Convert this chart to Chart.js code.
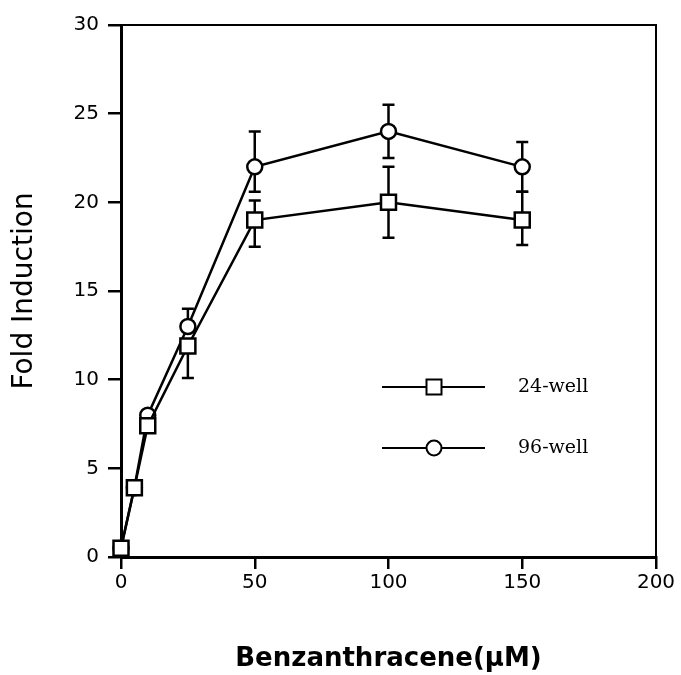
<!DOCTYPE html>
<html>
<head>
<meta charset="utf-8">
<script src="https://cdn.jsdelivr.net/npm/chart.js@4.4.1/dist/chart.umd.min.js"></script>
<style>
  html, body { margin: 0; padding: 0; background: #fff; }
  canvas { display: block; }
</style>
</head>
<body>
<canvas id="c" width="681" height="675"></canvas>
<script>
// ---- data ----
const concentrations = [0, 5, 10, 25, 50, 100, 150];          // Benzanthracene (µM)
const well24 = [0.5, 3.9, 7.4, 11.9, 19.0, 20.0, 19.0];
const well24Upper = [null, null, null, null, 20.1, 22.0, 20.6];
const well24Lower = [null, null, null, 10.1, 17.5, 18.0, 17.6];
const well96 = [0.5, 3.9, 8.0, 13.0, 22.0, 24.0, 22.0];
const well96Upper = [null, null, null, 14.0, 24.0, 25.5, 23.4];
const well96Lower = [null, null, null, null, 20.6, 22.5, 20.6];
const xTicks = [0, 50, 100, 150, 200];
const yTicks = [0, 5, 10, 15, 20, 25, 30];
const seriesNames = ['24-well', '96-well'];

function toPoints(xs, ys) { return xs.map((x, i) => ({ x: x, y: ys[i] })); }

// error bars drawn through the scales
const errorBarPlugin = {
  id: 'errorBars',
  beforeDatasetsDraw(chart) {
    const ctx = chart.ctx;
    const xs = chart.scales.x, ys = chart.scales.y;
    const sets = [[well96, well96Upper, well96Lower], [well24, well24Upper, well24Lower]];
    ctx.save();
    ctx.strokeStyle = '#000';
    ctx.lineWidth = 2.5;
    const cap = 6;
    sets.forEach(([vals, up, lo]) => {
      concentrations.forEach((c, i) => {
        const px = xs.getPixelForValue(c);
        const py = ys.getPixelForValue(vals[i]);
        [up[i], lo[i]].forEach(v => {
          if (v === null || v === undefined) return;
          const ey = ys.getPixelForValue(v);
          ctx.beginPath();
          ctx.moveTo(px, py);
          ctx.lineTo(px, ey);
          ctx.moveTo(px - cap, ey);
          ctx.lineTo(px + cap, ey);
          ctx.stroke();
        });
      });
    });
    ctx.restore();
  }
};

// frame (top and right) + in-plot legend
const framePlugin = {
  id: 'frameLegend',
  afterDraw(chart) {
    const ctx = chart.ctx;
    const a = chart.chartArea;
    ctx.save();
    ctx.strokeStyle = '#000';
    ctx.lineWidth = 2;
    ctx.beginPath();
    ctx.moveTo(a.left, a.top);
    ctx.lineTo(a.right, a.top);
    ctx.lineTo(a.right, a.bottom);
    ctx.stroke();

    // legend
    const lx0 = 382, lx1 = 485, mx = 434, tx = 518;
    const rows = [387, 448];
    ctx.lineWidth = 2;
    rows.forEach((y, k) => {
      ctx.beginPath();
      ctx.moveTo(lx0, y);
      ctx.lineTo(lx1, y);
      ctx.stroke();
      ctx.fillStyle = '#fff';
      ctx.beginPath();
      if (k === 0) {
        ctx.rect(mx - 7.5, y - 7.5, 15, 15);
      } else {
        ctx.arc(mx, y, 7.5, 0, Math.PI * 2);
      }
      ctx.fill();
      ctx.stroke();
      ctx.fillStyle = '#000';
      ctx.font = "19px 'DejaVu Serif'";
      ctx.textBaseline = 'middle';
      ctx.textAlign = 'left';
      ctx.fillText(seriesNames[k], tx, y);
    });
    ctx.restore();
  }
};

new Chart(document.getElementById('c'), {
  type: 'line',
  data: {
    datasets: [
      {
        label: seriesNames[1],
        data: toPoints(concentrations, well96),
        borderColor: '#000',
        borderWidth: 2.5,
        pointStyle: 'circle',
        pointRadius: 7.5,
        pointBorderWidth: 2.5,
        pointBackgroundColor: '#fff',
        pointBorderColor: '#000',
        tension: 0,
        clip: false,
        order: 2
      },
      {
        label: seriesNames[0],
        data: toPoints(concentrations, well24),
        borderColor: '#000',
        borderWidth: 2.5,
        pointStyle: 'rect',
        pointRadius: 10.6,
        pointBorderWidth: 2.5,
        pointBackgroundColor: '#fff',
        pointBorderColor: '#000',
        tension: 0,
        clip: false,
        order: 1
      }
    ]
  },
  options: {
    responsive: false,
    animation: false,
    devicePixelRatio: 1,
    layout: { padding: { left: 0, top: 25, right: 25, bottom: 0 } },
    plugins: { legend: { display: false }, tooltip: { enabled: false } },
    scales: {
      x: {
        type: 'linear',
        min: 0, max: 200,
        afterFit(s) { s.height = 118; },
        afterBuildTicks(s) { s.ticks = xTicks.map(v => ({ value: v })); },
        border: { display: true, color: '#000', width: 3 },
        grid: { drawOnChartArea: false, drawTicks: true, tickLength: 12, color: '#000', lineWidth: 2.5 },
        ticks: { color: '#000', font: { family: 'DejaVu Sans', size: 20 }, padding: 2, maxRotation: 0 },
        title: {
          display: true,
          text: 'Benzanthracene(\u03BCM)',
          color: '#000',
          font: { family: 'DejaVu Sans', size: 26, weight: 'bold' },
          padding: { top: 0, bottom: 0 }
        }
      },
      y: {
        type: 'linear',
        min: 0, max: 30,
        afterFit(s) { s.width = 121; },
        afterBuildTicks(s) { s.ticks = yTicks.map(v => ({ value: v })); },
        border: { display: true, color: '#000', width: 3 },
        grid: { drawOnChartArea: false, drawTicks: true, tickLength: 13, color: '#000', lineWidth: 2.5 },
        ticks: { color: '#000', font: { family: 'DejaVu Sans', size: 20 }, padding: 9 },
        title: {
          display: true,
          text: 'Fold Induction',
          color: '#000',
          font: { family: 'DejaVu Sans', size: 28 },
          padding: { top: 8, bottom: 0 }
        }
      }
    }
  },
  plugins: [errorBarPlugin, framePlugin]
});
</script>
</body>
</html>
